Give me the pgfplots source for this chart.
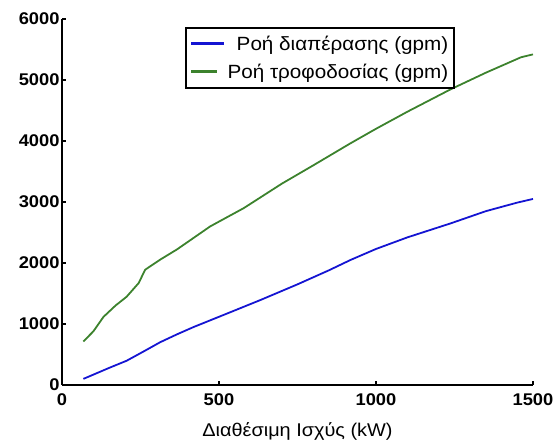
\documentclass[border=0pt]{standalone}
\usepackage{pgfplots}
\pgfplotsset{compat=1.18}
\usepackage{fontspec}
\setmainfont[FakeStretch=1.08]{Liberation Sans}
\definecolor{myblue}{RGB}{20,20,210}
\definecolor{mygreen}{RGB}{60,130,45}
\begin{document}
\begin{tikzpicture}
\begin{axis}[
  scale only axis,
  width=471bp, height=366bp,
  xmin=0, xmax=1500, ymin=0, ymax=6000,
  axis x line=bottom, axis y line=left,
  axis line style={-, line width=1.8pt},
  xtick={0,500,1000,1500}, ytick={0,1000,2000,3000,4000,5000,6000},
  tick style={black, line width=1.5pt},
  tick align=inside,
  major tick length=4bp,
  /pgf/number format/assume math mode=true,
  /pgf/number format/1000 sep={},
  tick label style={font=\fontsize{17}{19}\selectfont\bfseries},
  xticklabel style={yshift=-5bp},
  yticklabel style={xshift=1bp},
  xlabel={Διαθέσιμη Ισχύς (kW)},
  xlabel style={font=\fontsize{18.5}{20}\selectfont, yshift=-10bp},
  legend style={at={(0.261,0.978)}, anchor=north west, draw=black, line width=1.8pt,
    font=\fontsize{19.2}{21}\selectfont, row sep=8pt, inner ysep=6pt, inner xsep=4pt},
  legend cell align=right,
]
\addplot[myblue, line width=1.8pt,
  legend image code/.code={\draw[myblue, line width=2.8pt] (0bp,0bp) -- (33bp,0bp);}] coordinates {
(68,100) (100,170) (150,280) (206,398) (260,550) (313,702) (366,830) (419,950) (526,1172) (632,1393)
(750,1650) (850,1880) (919,2050) (1000,2230) (1100,2420) (1238,2650) (1350,2850) (1450,2990) (1500,3050)};
\addlegendentry{Ροή διαπέρασης (gpm)}
\addplot[mygreen, line width=1.8pt,
  legend image code/.code={\draw[mygreen, line width=2.8pt] (0bp,0bp) -- (26bp,0bp);}] coordinates {
(68,713) (100,880) (132,1116) (170,1300) (206,1448) (244,1670) (265,1890) (313,2056) (366,2222) (472,2600)
(579,2900) (700,3300) (800,3600) (919,3963) (1000,4200) (1100,4480) (1238,4848) (1350,5120) (1462,5373) (1500,5420)};
\addlegendentry{Ροή τροφοδοσίας (gpm)}
\end{axis}
\pgfresetboundingbox
\path ([shift={(-62bp,-55bp)}]current axis.south west) rectangle ([shift={(25bp,19bp)}]current axis.north east);
\end{tikzpicture}
\end{document}
